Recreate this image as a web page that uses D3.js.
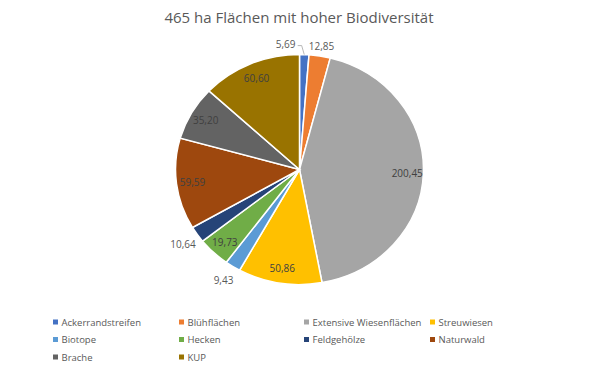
<!DOCTYPE html>
<html><head><meta charset="utf-8">
<script src="https://cdn.jsdelivr.net/npm/d3@7"></script>
<style>body{margin:0;background:#fff}svg{display:block}</style>
</head><body>
<script>
const categories = ["Ackerrandstreifen","Blühflächen","Extensive Wiesenflächen","Streuwiesen","Biotope","Hecken","Feldgehölze","Naturwald","Brache","KUP"];
const values = [5.69,12.85,200.45,50.86,9.43,19.73,10.64,59.59,35.20,60.60];
const labels = ["5,69","12,85","200,45","50,86","9,43","19,73","10,64","59,59","35,20","60,60"];
const colors = ["#4472C4","#ED7D31","#A5A5A5","#FFC000","#5B9BD5","#70AD47","#264478","#9E480E","#636363","#997300"];
const title = "465 ha Flächen mit hoher Biodiversität";

const W=600,H=370, cx=299.5, cy=169.5, R=115, sx=1.078;
const svg=d3.select("body").append("svg").attr("width",W).attr("height",H);
const font="'Open Sans', sans-serif";

svg.append("text").attr("x",299).attr("y",17).attr("text-anchor","middle")
  .attr("dominant-baseline","central").attr("font-family",font).attr("font-size",15)
  .attr("fill","#595959").text(title);

const data = categories.map((c,i)=>({c, v:values[i], l:labels[i], col:colors[i]}));
const pie=d3.pie().value(d=>d.v).sort(null);
const arcs=pie(data);
const arc=d3.arc().innerRadius(0).outerRadius(R);
const g=svg.append("g").attr("transform",`translate(${cx},${cy}) scale(${sx},1)`);
g.selectAll("path").data(arcs).join("path").attr("d",arc).attr("fill",d=>d.data.col)
  .attr("stroke","#fff").attr("stroke-width",1.5).attr("vector-effect","non-scaling-stroke");

const inner=d3.arc().innerRadius(100).outerRadius(100);
const outer=d3.arc().innerRadius(131).outerRadius(131);
const near=d3.arc().innerRadius(125).outerRadius(125);
const lg=svg.append("g").attr("transform",`translate(${cx},${cy})`);
arcs.forEach((a,i)=>{
  const span=a.endAngle-a.startAngle;
  let p, outside=false;
  if(i===0){ p=near.centroid(a); p=[p[0]*sx-19, p[1]-1]; outside=true; }
  else if(i===1){ p=near.centroid(a); p=[p[0]*sx, p[1]]; outside=true; }
  else if(span<0.2){ p=outer.centroid(a); p=[p[0]*sx, p[1]]; outside=true; }
  else { p=inner.centroid(a); p=[p[0]*sx, p[1]]; }
  lg.append("text").attr("x",p[0]).attr("y",p[1]).attr("text-anchor","middle")
    .attr("dominant-baseline","central").attr("font-family",font).attr("font-size",10)
    .attr("fill",outside?"#595959":"#404040").text(a.data.l);
  if(i===0){
    const e=d3.arc().innerRadius(R).outerRadius(R).centroid(a);
    const ex=e[0]*sx, ey=e[1];
    lg.append("path").attr("d",`M${p[0]+12},${p[1]+2}H${p[0]+16}L${ex},${ey}`)
      .attr("fill","none").attr("stroke","#a6a6a6").attr("stroke-width",0.8);
  }
});

// legend
const colX=[53,179,304,430], rowY=[322,339.5,357];
const leg=svg.append("g");
data.forEach((d,i)=>{
  const x=colX[i%4], y=rowY[Math.floor(i/4)];
  leg.append("rect").attr("x",x).attr("y",y-2.5).attr("width",5).attr("height",5).attr("fill",d.col);
  leg.append("text").attr("x",x+8.5).attr("y",y).attr("dominant-baseline","central")
    .attr("font-family",font).attr("font-size",9.5).attr("fill","#595959").text(d.c);
});
</script>
</body></html>
